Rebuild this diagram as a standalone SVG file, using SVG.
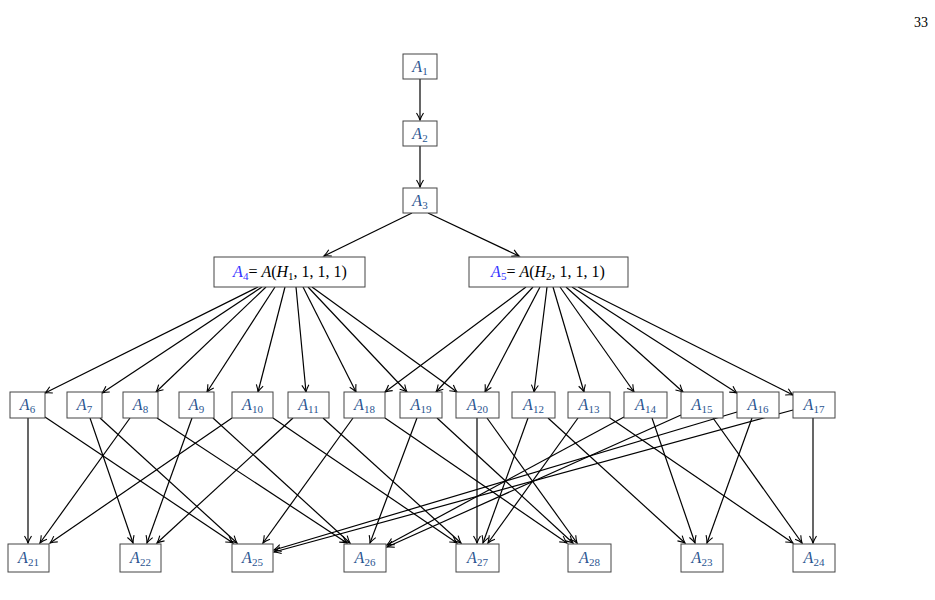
<svg xmlns="http://www.w3.org/2000/svg" width="935" height="600" viewBox="0 0 935 600">
<defs>
<marker id="ah" markerWidth="10" markerHeight="10" refX="8" refY="5" orient="auto" markerUnits="userSpaceOnUse">
<path d="M1,1.5 Q5,4 8,5 Q5,6 1,8.5" fill="none" stroke="#000" stroke-width="1.1"/>
</marker>
<style>
.b{fill:#fff;stroke:#444;stroke-width:1}
.t{font-family:"Liberation Serif",serif;font-style:italic;font-size:16px;fill:#2b5590;text-anchor:middle}
.s{font-size:11px;font-style:normal}
.k{fill:#000}
.c line{stroke:#000;stroke-width:1.2;marker-end:url(#ah)}
</style>
</defs>
<rect width="935" height="600" fill="#fff"/>
<text x="928" y="27" font-family="Liberation Serif,serif" font-size="14" text-anchor="end">33</text>
<g class="c">
<line x1="420" y1="79" x2="420" y2="120"/>
<line x1="420" y1="146" x2="420" y2="187"/>
<line x1="412" y1="213" x2="324" y2="256"/>
<line x1="428" y1="213" x2="519" y2="256"/>
<line x1="258" y1="287" x2="45" y2="393"/>
<line x1="262" y1="287" x2="102" y2="393"/>
<line x1="266" y1="287" x2="156" y2="392"/>
<line x1="275" y1="287" x2="207" y2="392"/>
<line x1="285" y1="287" x2="258" y2="392"/>
<line x1="296" y1="287" x2="306" y2="392"/>
<line x1="303" y1="287" x2="356" y2="392"/>
<line x1="308" y1="287" x2="407" y2="392"/>
<line x1="312" y1="287" x2="457" y2="392"/>
<line x1="526" y1="287" x2="385" y2="392"/>
<line x1="533" y1="287" x2="436" y2="392"/>
<line x1="540" y1="287" x2="485" y2="392"/>
<line x1="547" y1="287" x2="534" y2="392"/>
<line x1="553" y1="287" x2="584" y2="392"/>
<line x1="560" y1="287" x2="634" y2="392"/>
<line x1="566" y1="287" x2="683" y2="392"/>
<line x1="572" y1="287" x2="737" y2="393"/>
<line x1="578" y1="287" x2="793" y2="395"/>
<line x1="28" y1="418" x2="28" y2="543"/>
<line x1="45" y1="417" x2="233" y2="543"/>
<line x1="90" y1="418" x2="133" y2="543"/>
<line x1="100" y1="418" x2="237" y2="543"/>
<line x1="130" y1="418" x2="40" y2="543"/>
<line x1="157" y1="418" x2="347" y2="543"/>
<line x1="192" y1="418" x2="147" y2="543"/>
<line x1="213" y1="418" x2="350" y2="543"/>
<line x1="232" y1="418" x2="50" y2="543"/>
<line x1="273" y1="418" x2="457" y2="543"/>
<line x1="293" y1="418" x2="157" y2="543"/>
<line x1="323" y1="418" x2="461" y2="543"/>
<line x1="353" y1="418" x2="263" y2="543"/>
<line x1="385" y1="418" x2="567" y2="543"/>
<line x1="417" y1="418" x2="370" y2="543"/>
<line x1="437" y1="418" x2="573" y2="543"/>
<line x1="477" y1="418" x2="477" y2="543"/>
<line x1="487" y1="418" x2="577" y2="543"/>
<line x1="528" y1="418" x2="483" y2="543"/>
<line x1="548" y1="418" x2="685" y2="543"/>
<line x1="578" y1="418" x2="488" y2="543"/>
<line x1="610" y1="418" x2="793" y2="543"/>
<line x1="624" y1="417" x2="387" y2="545"/>
<line x1="652" y1="418" x2="695" y2="543"/>
<line x1="681" y1="415" x2="387" y2="547"/>
<line x1="713" y1="418" x2="802" y2="543"/>
<line x1="737" y1="412" x2="274" y2="550"/>
<line x1="752" y1="418" x2="707" y2="543"/>
<line x1="793" y1="410" x2="274" y2="552"/>
<line x1="813" y1="418" x2="813" y2="543"/>
</g>
<g id="A1"><rect class="b" x="403" y="54" width="34" height="25"/><text class="t" x="420" y="72">A<tspan class="s" dy="3">1</tspan></text></g>
<g id="A2"><rect class="b" x="403" y="121" width="34" height="25"/><text class="t" x="420" y="139">A<tspan class="s" dy="3">2</tspan></text></g>
<g id="A3"><rect class="b" x="403" y="188" width="34" height="25"/><text class="t" x="420" y="206">A<tspan class="s" dy="3">3</tspan></text></g>
<g id="A4"><rect class="b" x="214" y="257" width="151" height="30"/><text class="t" x="290" y="277"><tspan fill="#3333ff">A<tspan class="s" dy="3">4</tspan></tspan><tspan class="k" dy="-3" font-style="normal">= </tspan><tspan class="k">A</tspan><tspan class="k" font-style="normal">(</tspan><tspan class="k">H</tspan><tspan class="k s" dy="3">1</tspan><tspan class="k" dy="-3" font-style="normal">, 1, 1, 1)</tspan></text></g>
<g id="A5"><rect class="b" x="469" y="257" width="159" height="30"/><text class="t" x="548" y="277"><tspan fill="#3333ff">A<tspan class="s" dy="3">5</tspan></tspan><tspan class="k" dy="-3" font-style="normal">= </tspan><tspan class="k">A</tspan><tspan class="k" font-style="normal">(</tspan><tspan class="k">H</tspan><tspan class="k s" dy="3">2</tspan><tspan class="k" dy="-3" font-style="normal">, 1, 1, 1)</tspan></text></g>
<g id="A6"><rect class="b" x="10" y="392" width="35" height="26"/><text class="t" x="27.5" y="410">A<tspan class="s" dy="3">6</tspan></text></g>
<g id="A7"><rect class="b" x="67" y="392" width="35" height="26"/><text class="t" x="84.5" y="410">A<tspan class="s" dy="3">7</tspan></text></g>
<g id="A8"><rect class="b" x="123" y="392" width="35" height="26"/><text class="t" x="140.5" y="410">A<tspan class="s" dy="3">8</tspan></text></g>
<g id="A9"><rect class="b" x="179" y="392" width="35" height="26"/><text class="t" x="196.5" y="410">A<tspan class="s" dy="3">9</tspan></text></g>
<g id="A10"><rect class="b" x="232" y="392" width="41" height="26"/><text class="t" x="252.5" y="410">A<tspan class="s" dy="3">10</tspan></text></g>
<g id="A11"><rect class="b" x="288" y="392" width="41" height="26"/><text class="t" x="308.5" y="410">A<tspan class="s" dy="3">11</tspan></text></g>
<g id="A18"><rect class="b" x="344" y="392" width="41" height="26"/><text class="t" x="364.5" y="410">A<tspan class="s" dy="3">18</tspan></text></g>
<g id="A19"><rect class="b" x="400" y="392" width="42" height="26"/><text class="t" x="421" y="410">A<tspan class="s" dy="3">19</tspan></text></g>
<g id="A20"><rect class="b" x="456" y="392" width="43" height="26"/><text class="t" x="477.5" y="410">A<tspan class="s" dy="3">20</tspan></text></g>
<g id="A12"><rect class="b" x="512" y="392" width="43" height="26"/><text class="t" x="533.5" y="410">A<tspan class="s" dy="3">12</tspan></text></g>
<g id="A13"><rect class="b" x="568" y="392" width="42" height="26"/><text class="t" x="589" y="410">A<tspan class="s" dy="3">13</tspan></text></g>
<g id="A14"><rect class="b" x="624" y="392" width="43" height="26"/><text class="t" x="645.5" y="410">A<tspan class="s" dy="3">14</tspan></text></g>
<g id="A15"><rect class="b" x="681" y="392" width="42" height="26"/><text class="t" x="702" y="410">A<tspan class="s" dy="3">15</tspan></text></g>
<g id="A16"><rect class="b" x="737" y="392" width="42" height="26"/><text class="t" x="758" y="410">A<tspan class="s" dy="3">16</tspan></text></g>
<g id="A17"><rect class="b" x="793" y="392" width="42" height="26"/><text class="t" x="814" y="410">A<tspan class="s" dy="3">17</tspan></text></g>
<g id="A21"><rect class="b" x="8" y="544" width="41" height="28"/><text class="t" x="28.5" y="563">A<tspan class="s" dy="3">21</tspan></text></g>
<g id="A22"><rect class="b" x="120" y="544" width="41" height="28"/><text class="t" x="140.5" y="563">A<tspan class="s" dy="3">22</tspan></text></g>
<g id="A25"><rect class="b" x="232" y="544" width="41" height="28"/><text class="t" x="252.5" y="563">A<tspan class="s" dy="3">25</tspan></text></g>
<g id="A26"><rect class="b" x="344" y="544" width="42" height="28"/><text class="t" x="365" y="563">A<tspan class="s" dy="3">26</tspan></text></g>
<g id="A27"><rect class="b" x="456" y="544" width="43" height="28"/><text class="t" x="477.5" y="563">A<tspan class="s" dy="3">27</tspan></text></g>
<g id="A28"><rect class="b" x="568" y="544" width="43" height="28"/><text class="t" x="589.5" y="563">A<tspan class="s" dy="3">28</tspan></text></g>
<g id="A23"><rect class="b" x="681" y="544" width="42" height="28"/><text class="t" x="702" y="563">A<tspan class="s" dy="3">23</tspan></text></g>
<g id="A24"><rect class="b" x="793" y="544" width="42" height="28"/><text class="t" x="814" y="563">A<tspan class="s" dy="3">24</tspan></text></g>
</svg>
